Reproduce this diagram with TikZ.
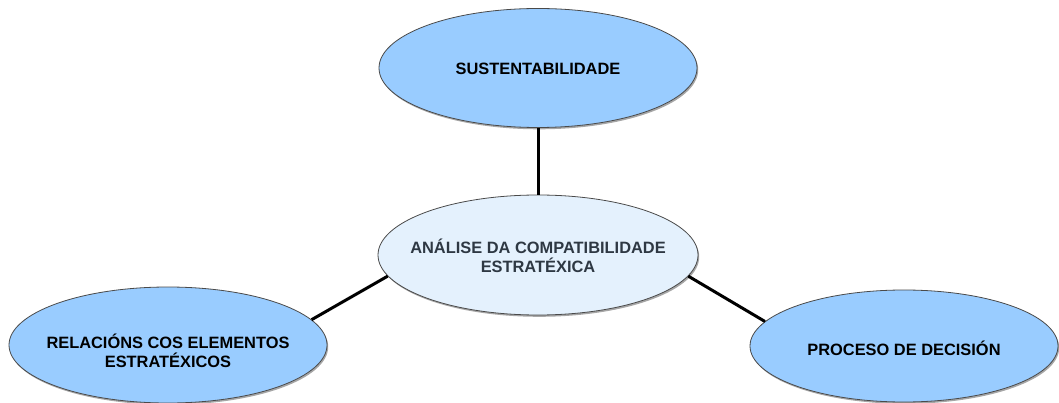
\documentclass[tikz,border=0pt]{standalone}
\usepackage{fontspec}
\setmainfont{Liberation Sans}
\usetikzlibrary{shapes.geometric,shadows}
\definecolor{outerfill}{HTML}{99CCFF}
\definecolor{innerfill}{HTML}{E4F1FD}
\definecolor{edgegray}{HTML}{4A4A4A}
\definecolor{innertext}{HTML}{2E3843}
\tikzset{
  bubble/.style={ellipse, draw=edgegray, line width=0.8pt, inner sep=0pt,
    drop shadow={shadow xshift=1.2pt, shadow yshift=-1.8pt, opacity=0.35, fill=black}},
  outer/.style={bubble, fill=outerfill},
  inner/.style={bubble, fill=innerfill},
  label/.style={align=center, inner sep=0pt, font=\fontsize{16.4}{19.5}\selectfont\bfseries},
  link/.style={line width=3pt, black}
}
\begin{document}
\begin{tikzpicture}[x=1pt,y=-1pt]
\useasboundingbox (0,0) rectangle (1059,403);
\node[outer, minimum width=318pt, minimum height=119pt] (top) at (538,68) {};
\node[inner, minimum width=320pt, minimum height=120pt] (mid) at (538,255) {};
\node[outer, minimum width=318pt, minimum height=116pt] (left) at (168,345) {};
\node[outer, minimum width=308pt, minimum height=112pt] (right) at (904,346) {};
\node[label, text=black] (toplbl) at ([yshift=-1pt]top.center) {SUSTENTABILIDADE};
\node[label, text=innertext] (midlbl) at ([yshift=-1pt]mid.center) {ANÁLISE DA COMPATIBILIDADE\\ESTRATÉXICA};
\node[label, text=black] (leftlbl) at ([yshift=-6pt]left.center) {RELACIÓNS COS ELEMENTOS\\ESTRATÉXICOS};
\node[label, text=black] (rightlbl) at ([yshift=-2pt]right.center) {PROCESO DE DECISIÓN};
\draw[link] (top.south) -- (mid.north);
\draw[link] (left.10.4) -- (mid.188.8);
\draw[link] (mid.-8.9) -- (right.170);
\end{tikzpicture}
\end{document}
